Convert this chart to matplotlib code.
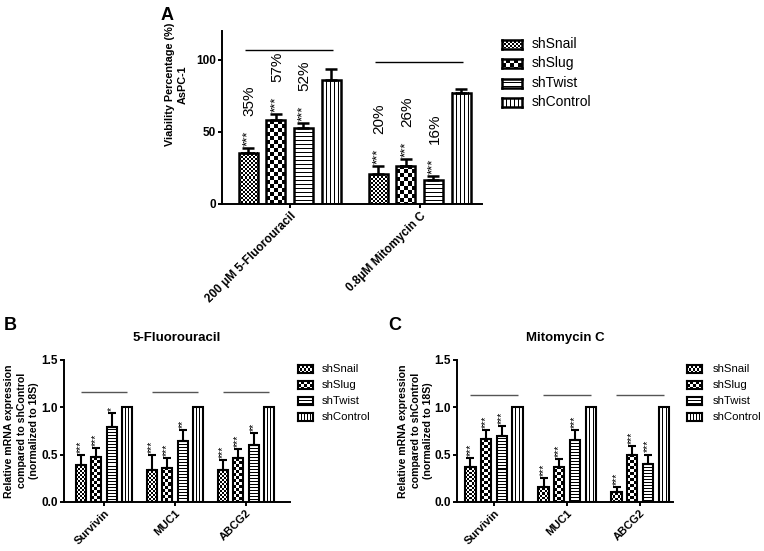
import numpy as np
import matplotlib
matplotlib.use("Agg")
import matplotlib.pyplot as plt

plt.rcParams['font.family'] = ['Liberation Sans', 'DejaVu Sans']

W, H = 764, 551

groups = ['shSnail', 'shSlug', 'shTwist', 'shControl']
kinds = ['fine', 'checker', 'hlines', 'vlines']

# --- panel A: viability (%)
drugs = ['200 μM 5-Fluorouracil', '0.8μM Mitomycin C']
via_snail = [35.5, 20.5]
via_slug = [58, 26.5]
via_twist = [52.5, 16.5]
via_ctrl = [86, 77]
via_err_snail = [3.3, 6]
via_err_slug = [4.5, 5]
via_err_twist = [3.5, 3]
via_err_ctrl = [7.6, 2.8]
pct_snail = ['35%', '20%']
pct_slug = ['57%', '26%']
pct_twist = ['52%', '16%']
line_a = [107, 98.5]

# --- panel B/C: mRNA
genes = ['Survivin', 'MUC1', 'ABCG2']
fu_snail = [0.39, 0.34, 0.34]
fu_slug = [0.47, 0.36, 0.46]
fu_twist = [0.79, 0.64, 0.60]
fu_ctrl = [1.0, 1.0, 1.0]
fu_err_snail = [0.10, 0.15, 0.10]
fu_err_slug = [0.10, 0.10, 0.10]
fu_err_twist = [0.15, 0.12, 0.13]
fu_stars_snail = ['***', '***', '***']
fu_stars_slug = ['***', '***', '***']
fu_stars_twist = ['*', '**', '**']

mit_snail = [0.37, 0.16, 0.11]
mit_slug = [0.66, 0.37, 0.50]
mit_twist = [0.70, 0.65, 0.40]
mit_ctrl = [1.0, 1.0, 1.0]
mit_err_snail = [0.09, 0.09, 0.05]
mit_err_slug = [0.10, 0.08, 0.09]
mit_err_twist = [0.10, 0.11, 0.10]
mit_stars_snail = ['***', '***', '***']
mit_stars_slug = ['***', '***', '***']
mit_stars_twist = ['***', '***', '***']
line_b = [1.155, 1.155, 1.155]
line_c = [1.13, 1.13, 1.13]


def pattern(kind, nx, ny, sq):
    i, j = np.mgrid[0:ny, 0:nx]
    if kind == 'fine':
        return ((i // 2 + j // 2) % 2).astype(float)
    if kind == 'checker':
        return ((i // sq + j // sq) % 2).astype(float)
    if kind == 'hlines':
        return (i % sq == 0).astype(float)
    return (j % sq == 0).astype(float)


def fill_bar(ax, rect, kind, sq):
    x0, y0 = rect.get_x(), rect.get_y()
    x1, y1 = x0 + rect.get_width(), y0 + rect.get_height()
    p0 = ax.transData.transform((x0, y0))
    p1 = ax.transData.transform((x1, y1))
    nx = max(1, int(round(abs(p1[0] - p0[0]))))
    ny = max(1, int(round(abs(p1[1] - p0[1]))))
    ax.imshow(pattern(kind, nx, ny, sq), cmap='gray_r', vmin=0, vmax=1,
              extent=(x0, x1, y0, y1), aspect='auto', interpolation='nearest',
              zorder=2)


def px_axes(l, r, t, b):
    return fig.add_axes([l / W, 1 - b / H, (r - l) / W, (b - t) / H])


def swatch(x, yc, w, h, kind, sq, lw):
    a = fig.add_axes([x / W, 1 - (yc + h / 2) / H, w / W, h / H])
    a.imshow(pattern(kind, int(w), int(h), sq), cmap='gray_r', vmin=0, vmax=1,
             aspect='auto', interpolation='nearest')
    a.set_xticks([])
    a.set_yticks([])
    for s in a.spines.values():
        s.set_linewidth(lw)


def bar_panel(ax, vals, errs, stars, xlim, ylim, width, step, sqs, lw, cap, sfs):
    x = np.arange(len(vals[0]))
    ax.set_xlim(*xlim)
    ax.set_ylim(*ylim)
    for k in range(4):
        xs = x + (k - 1.5) * step
        bars = ax.bar(xs, vals[k], width, fill=False, edgecolor='black',
                      linewidth=lw, zorder=3)
        for r in bars:
            fill_bar(ax, r, kinds[k], sqs[k])
        if errs[k] is not None:
            ax.errorbar(xs, vals[k], yerr=[np.zeros(len(x)), errs[k]], fmt='none',
                        ecolor='black', elinewidth=lw, capsize=cap, capthick=lw,
                        zorder=3)
        if stars[k] is not None:
            top = np.array(vals[k]) + np.array(errs[k])
            for xi, yi, s in zip(xs, top, stars[k]):
                ax.annotate(s, (xi, yi), xytext=(0, 1.5), textcoords='offset points',
                            rotation=90, ha='center', va='bottom', fontsize=sfs)
    ax.spines['top'].set_visible(False)
    ax.spines['right'].set_visible(False)
    ax.spines['left'].set_linewidth(1.4)
    ax.spines['bottom'].set_linewidth(1.4)
    ax.tick_params(width=1.4, length=2.8, pad=1.5)
    return x


fig = plt.figure(figsize=(W / 100, H / 100), dpi=100)

# ---------------- A
axA = px_axes(222, 482, 31, 204)
vals = [via_snail, via_slug, via_twist, via_ctrl]
errs = [via_err_snail, via_err_slug, via_err_twist, via_err_ctrl]
stars = [['***'] * 2, ['***'] * 2, ['***'] * 2, None]
x = bar_panel(axA, vals, errs, stars, (-0.52, 1.48), (0, 120), 0.146, 0.213,
              [2, 4, 4, 4], 1.8, 4.3, 9.5)
for k, pct in enumerate([pct_snail, pct_slug, pct_twist]):
    top = np.array(vals[k]) + np.array(errs[k])
    for xi, yi, s in zip(x + (k - 1.5) * 0.213, top, pct):
        axA.annotate(s, (xi, yi), xytext=(1, 23), textcoords='offset points',
                     rotation=90, ha='center', va='bottom', fontsize=11)
axA.hlines(line_a, x - 0.34, x + 0.33, color='black', linewidth=1)
axA.set_yticks([0, 50, 100])
axA.set_xticks(x)
axA.set_xticklabels(drugs, rotation=45, ha='right', rotation_mode='anchor',
                    fontweight='bold', fontsize=8.5)
for t in axA.get_yticklabels():
    t.set_fontweight('bold')
    t.set_fontsize(8.5)
axA.set_ylabel('Viability Percentage (%)\nAsPC-1', fontweight='bold', fontsize=7.8,
               linespacing=1.45)
axA.yaxis.set_label_coords(-0.13, 0.69)
fig.text(167 / W, 1 - 15 / H, 'A', fontsize=13, fontweight='bold', ha='center', va='center')
for k, g in enumerate(groups):
    yc = 44 + k * 19.5
    swatch(502, yc, 20, 9, kinds[k], [2, 4, 4, 4][k], 1.8)
    fig.text(532 / W, 1 - yc / H, g, fontsize=10, va='center')

# ---------------- B and C
panels = [
    (64, 290, '5-Fluorouracil', 'B', 10, 298, 322, -0.11,
     [fu_snail, fu_slug, fu_twist, fu_ctrl],
     [fu_err_snail, fu_err_slug, fu_err_twist, None],
     [fu_stars_snail, fu_stars_slug, fu_stars_twist, None], line_b, (-0.563, 2.62)),
    (457, 673, 'Mitomycin C', 'C', 395, 687, 713, -0.11,
     [mit_snail, mit_slug, mit_twist, mit_ctrl],
     [mit_err_snail, mit_err_slug, mit_err_twist, None],
     [mit_stars_snail, mit_stars_slug, mit_stars_twist, None], line_c, (-0.507, 2.45)),
]
for l, r, title, lab, labx, swx, txx, lx, vals, errs, stars, lines, xl in panels:
    ax = px_axes(l, r, 359.5, 502)
    x = bar_panel(ax, vals, errs, stars, xl, (0, 1.5), 0.14, 0.215,
                  [2, 3, 3, 3], 1.5, 3, 7.5)
    ax.hlines(lines, x - 0.33, x + 0.33, color='#555555', linewidth=1)
    ax.set_yticks([0, 0.5, 1.0, 1.5])
    ax.set_yticklabels(['0.0', '0.5', '1.0', '1.5'], fontweight='bold', fontsize=8.5)
    ax.set_xticks(x)
    ax.set_xticklabels(genes, rotation=45, ha='right', rotation_mode='anchor',
                       fontweight='bold', fontsize=8)
    ax.set_ylabel('Relative mRNA expression\ncompared to shControl\n(normalized to 18S)',
                  fontweight='bold', fontsize=7.6, linespacing=1.3)
    ax.yaxis.set_label_coords(lx, 0.5)
    ax.set_title(title, fontweight='bold', fontsize=9.5, pad=13)
    fig.text(labx / W, 1 - 326 / H, lab, fontsize=13, fontweight='bold',
             ha='center', va='center')
    for k, g in enumerate(groups):
        yc = 369 + k * 16
        swatch(swx, yc, 15, 8, kinds[k], [2, 3, 3, 3][k], 1.5)
        fig.text(txx / W, 1 - yc / H, g, fontsize=8.2, va='center')

fig.savefig('out.png', dpi=100)
